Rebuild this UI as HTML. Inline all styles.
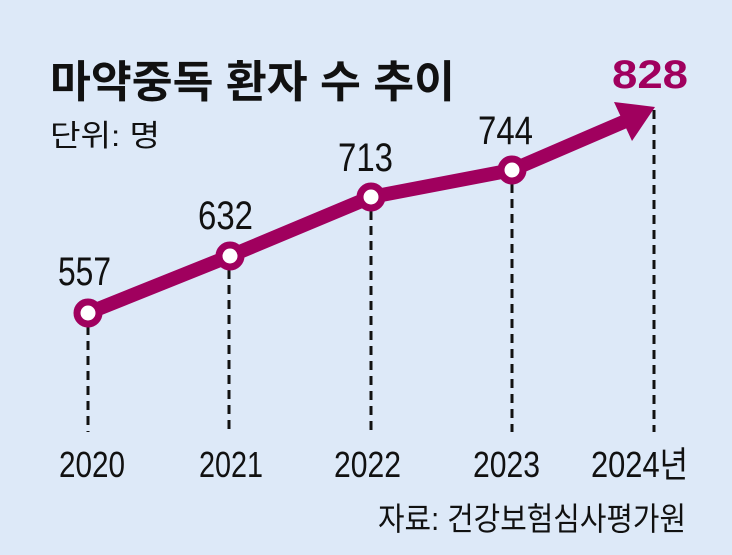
<!DOCTYPE html>
<html><head><meta charset="utf-8"><style>
html,body{margin:0;padding:0;background:#dde9f8;}
svg{display:block}
text{font-family:"Liberation Sans","Noto Sans CJK KR",sans-serif;}
</style></head><body>
<svg width="732" height="555" viewBox="0 0 732 555">
<rect width="732" height="555" fill="#dde9f8"/>
<g stroke="#111" stroke-width="3" stroke-dasharray="9,6">
<line x1="88" y1="326" x2="88" y2="432"/>
<line x1="229" y1="270" x2="229" y2="432"/>
<line x1="371" y1="211" x2="371" y2="432"/>
<line x1="512" y1="184" x2="512" y2="432"/>
<line x1="654" y1="110" x2="654" y2="432"/>
</g>
<polyline points="88,313 230,256 371,197 512,170 628,120" fill="none" stroke="#a0005e" stroke-width="14" stroke-linejoin="round"/>
<polygon points="614,102 655,107 632,141" fill="#a0005e"/>
<g fill="#fff" stroke="#a0005e" stroke-width="7">
<circle cx="88" cy="313" r="11"/>
<circle cx="230" cy="256" r="11"/>
<circle cx="371" cy="197" r="11"/>
<circle cx="512" cy="170" r="11"/>
</g>
<text x="50" y="97" font-size="44" font-weight="bold" textLength="405" lengthAdjust="spacingAndGlyphs" fill="#111">마약중독 환자 수 추이</text>
<text x="612" y="88" font-size="40" font-weight="bold" textLength="76" lengthAdjust="spacingAndGlyphs" fill="#a0005e">828</text>
<text x="50" y="146" font-size="30" textLength="110" lengthAdjust="spacingAndGlyphs" fill="#111">단위: 명</text>
<g font-size="40" fill="#111">
<text x="58" y="285" textLength="53" lengthAdjust="spacingAndGlyphs">557</text>
<text x="198" y="229" textLength="55" lengthAdjust="spacingAndGlyphs">632</text>
<text x="338" y="171" textLength="55" lengthAdjust="spacingAndGlyphs">713</text>
<text x="478" y="144" textLength="55" lengthAdjust="spacingAndGlyphs">744</text>
</g>
<g font-size="36" fill="#111">
<text x="59" y="477" textLength="66" lengthAdjust="spacingAndGlyphs">2020</text>
<text x="199" y="477" textLength="64" lengthAdjust="spacingAndGlyphs">2021</text>
<text x="334" y="477" textLength="67" lengthAdjust="spacingAndGlyphs">2022</text>
<text x="473" y="477" textLength="67" lengthAdjust="spacingAndGlyphs">2023</text>
<text x="591" y="477" textLength="97" lengthAdjust="spacingAndGlyphs">2024년</text>
</g>
<text x="378" y="530" font-size="32" textLength="308" lengthAdjust="spacingAndGlyphs" fill="#111">자료: 건강보험심사평가원</text>
</svg>
</body></html>
